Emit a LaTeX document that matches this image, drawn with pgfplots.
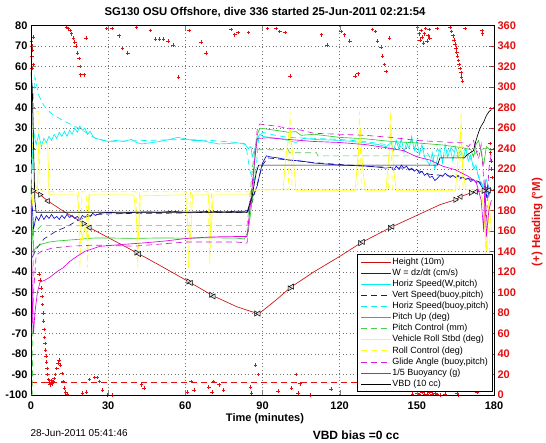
\documentclass[border=0pt]{standalone}
\usepackage{fontspec}
\setmainfont{Liberation Sans}
\usepackage{pgfplots}
\pgfplotsset{compat=1.18}
\definecolor{hred}{rgb}{0.9,0.05,0.05}
\definecolor{htline}{rgb}{0.8,0.05,0.05}
\definecolor{wblue}{rgb}{0.05,0.05,0.85}
\definecolor{navy}{rgb}{0.1,0.1,0.5}
\definecolor{mcyan}{rgb}{0,0.95,0.95}
\definecolor{mgreen}{rgb}{0.15,0.8,0.15}
\definecolor{mgreen2}{rgb}{0.3,0.8,0.3}
\definecolor{myellow}{rgb}{1,1,0.1}
\definecolor{mmag}{rgb}{0.9,0,0.9}
\definecolor{mmag2}{rgb}{0.85,0.1,0.85}
\begin{document}
\begin{tikzpicture}[x=1pt,y=1pt]
\path[use as bounding box] (0,0) rectangle (546,442);
% ---------- right axis: heading ----------
\begin{axis}[at={(31pt,47pt)}, anchor=south west, scale only axis,
  width=463pt, height=369.5pt,
  xmin=0, xmax=180, ymin=0, ymax=360,
  axis y line*=right, hide x axis,
  ytick={0,20,...,360},
  /pgf/number format/assume math mode=true,
  y tick label style={hred, font=\bfseries\fontsize{11}{11}\selectfont},
  ytick style={hred}, major tick length=5pt,
  y axis line style={black, line width=0.6pt},
  ylabel={(+) Heading (°M)},
  ylabel style={hred, font=\bfseries\fontsize{11.5}{12}\selectfont, at={(rel axis cs:1.093,0.468)}, anchor=center, rotate=0},
  clip=true]
\addplot[only marks, mark=+, hred, mark size=1.8pt, mark options={line width=0.55pt}] coordinates {
(0.2,345) (0.4,340) (0.6,336) (0.3,330) (0.9,322) (0.5,318) (1.0,349)
(3.2,118) (3.6,112) (3.9,104) (4.2,96) (4.4,88) (4.6,80) (4.8,72) (5.0,64) (5.2,56) (5.4,50) (5.6,44) (5.9,38) (6.1,32) (6.3,26) (6.5,20) (6.8,15) (7.1,12) (7.5,10) (7.8,14) (8.2,11) (8.6,13) (9,16) (9.5,20) (10,26) (10.5,31) (11,34) (11.5,29) (12,21) (12.5,13) (13,7) (13.5,3) (14,1)
(13.8,358) (14.3,357) (15.2,355) (15.8,352) (16.5,348) (17.0,344) (17.6,340) (18.1,333) (18.6,328) (19.0,320) (19.2,312) (20.6,312) (21.3,348)
(20,2) (21.6,3) (22.8,15) (24.7,17) (25.9,17) (26.6,13) (27.8,5) (29.8,0) (31.7,0)
(29.4,357) (31.5,357) (34.2,350) (35.5,338) (37.6,333) (41,358) (42.9,10) (44,7) (46.4,355) (48.4,347) (50,347) (51.5,347) (53.2,345) (55.2,341) (57.3,310) (60.6,3) (61.4,355) (62.2,13) (63.3,5) (66.1,344) (68.1,333) (69.1,8) (70.3,3) (71,13) (73,10) (74.9,5) (77.7,356) (79.2,351) (80.5,353) (84.5,353) (85.3,8) (85.7,2) (87.3,29) (88.4,20) (91.9,357) (95.3,357) (96,4) (96.7,354) (98.7,353) (100.8,311) (101.2,7) (103.1,20) (103.8,2) (104.5,11) (108.4,0) (113,351) (115,341) (116.7,6) (120.5,354) (121.8,351) (123.9,345) (125.9,311) (127.2,313) (132.7,356) (134,354) (134.7,345) (136,339) (136.7,330) (137.4,322) (138,315) (139.4,348) (142.5,13) (148.3,1)
(150.3,358) (150.8,352) (151.2,346) (151.7,355) (152.1,349) (152.6,343) (153,352) (153.4,357) (153.9,345) (154.3,350) (154.8,356) (155,348)
(150,2) (151,0.5) (152,3) (153,1) (154,1) (155,3) (156,1) (157,2) (158,0.5) (159,0) (157.8,357) (161,1)
(163,358) (163.5,354) (164,350) (164.4,346) (164.8,342) (165.2,338) (165.5,334) (165.8,330) (166.2,326) (166.5,322) (166.8,318) (167.1,314) (167.4,310) (167.7,306) (165.6,2) (166,0) (168.7,357) (173.4,3) (175.4,355) (175.6,352)
(178.5,245) (178.7,236) (178.9,228) (179.1,220) (179.3,212)
};
\addplot[hred, line width=0.6pt, dash pattern=on 6pt off 4pt] coordinates {(0,12.7) (178,12.7)};
\end{axis}
% ---------- left axis ----------
\begin{axis}[at={(31pt,47pt)}, anchor=south west, scale only axis,
  width=463pt, height=369.5pt,
  xmin=0, xmax=180, ymin=-100, ymax=80,
  xtick={0,30,...,180}, ytick={-100,-90,...,80},
  ytick pos=left, xtick pos=both,
  major tick length=5pt,
  /pgf/number format/assume math mode=true,
  tick label style={font=\bfseries\fontsize{11}{11}\selectfont},
  x tick label style={yshift=-3pt},
  axis line style={line width=0.6pt},
  grid=major, grid style={black!55, line width=0.5pt, dash pattern=on 1pt off 2.5pt},
  every axis plot/.append style={line width=0.65pt},
  legend cell align=left,
  legend style={at={(0.997,0.009)}, anchor=south east, draw=black, fill=white,
    line width=0.6pt, font=\fontsize{9}{9}\selectfont, row sep=0.5pt,
    nodes={inner sep=1pt, text height=6.6pt, text depth=2pt}},
  legend image code/.code={\draw[#1] (0pt,0pt) -- (30pt,0pt);},
  clip=true]
% Height (10m)
\addplot[htline] coordinates {
(0,0) (0.8,-0.5) (3.5,-2.4) (6.6,-5.5) (12,-10) (20,-16) (22.8,-18.5) (30,-23.3) (41,-30.6) (42,-31.3) (50,-36.8) (61.6,-45) (70.5,-51.5) (80,-57) (88,-60.3) (89,-60) (95,-54) (101,-47.5) (110,-40) (120,-32.5) (128.5,-25.7) (139.8,-18.4) (150,-12.5) (159,-7.3) (165,-4.9) (167,-3.4) (171,-1.5) (174,-0.8) (177.7,-0.3)};
\addlegendentry{Height (10m)}
% W = dz/dt
\addplot[wblue] coordinates {
(0,0) (0.5,-8) (1,-19) (1.5,-16) (2,-13) (3,-15) (4,-12) (5,-14.5) (6,-12.5) (7,-14) (8,-12) (9,-14) (10,-13) (11,-14.5) (12,-12.5) (13,-14) (14,-12) (15,-13.5) (16,-12.5) (17,-14) (18,-13) (19,-14.5) (20,-12.5) (21,-13.5) (22,-12) (23,-13) (24,-11.5) (25,-12.5) (27,-11.5) (30,-11) (35,-11.5) (40,-11) (45,-10.8) (50,-11) (55,-10.5) (60,-11) (65,-10.8) (70,-10.5) (75,-10.8) (80,-10.5) (83,-10.5) (84.5,-10) (86,-4) (88,2) (89,8) (90,13) (91.5,16.5) (93,16) (96,15.5) (100,14.5) (105,14) (110,13) (115,12.5) (120,12) (125,11.8) (130,11.5) (135,11) (138,10.5) (140,11) (141,9.5) (142,11.5) (143,10) (144,12) (145,10.5) (146,11.5) (147,9.5) (148,10.5) (149,9) (150,10) (151,8) (152,9) (153,7) (154,8) (155,6) (156,6.5) (157,4.5) (158,5.5) (159,7) (160,6.5) (161,8) (162,7) (163,6) (164,7) (165,6) (166,7) (167,5.5) (168,6) (169,5) (170,5.5) (171,4) (172,5) (173,3.5) (174,4) (175,2) (176,0) (176.5,3) (177,-4) (177.5,2) (178,-3) (178.5,1) (179,0)};
\addlegendentry{W = dz/dt (cm/s)}
% Horiz Speed (W,pitch)
\addplot[mcyan] coordinates {
(0,0) (0.5,15) (1,29) (1.5,25) (2,22) (3,27) (4,21) (5,25) (6,23) (7,26) (8,24) (9,27) (10,25) (11,28) (12,26) (13,28.5) (14,26) (15,29) (16,27) (17,30) (18,28) (19,31) (20,29) (21,30) (22,27) (23,28.5) (24,26) (25,25) (27,24.5) (30,23.5) (33,24) (36,23.5) (39,24.5) (41,23) (43,22.3) (46,22.8) (50,23.5) (54,24.5) (57,25.5) (60,24.8) (63,24) (66,24) (70,23) (73,22.3) (77,22.5) (80,22.8) (83,22.5) (84.5,20) (85.5,21) (86,16) (87,20) (88,25) (89,27) (90,26) (93,25.5) (96,25) (100,24) (103,23) (106,25) (110,24.5) (115,24.3) (120,24) (125,23.5) (130,22.8) (135,22) (138,21) (140,23) (141,19) (142,24) (143,20) (144,25) (145,18) (146,23) (147,20) (148,26) (149,19) (150,24) (151,17) (152,22) (153,16) (154,14) (155,12) (156,18) (157,10) (158,15) (159,20) (160,13) (161,22) (162,16) (163,20) (164,14) (165,21) (166,17) (167,19) (168,15) (169,20) (170,14) (171,17) (172,10) (173,12) (174,6) (175,3) (176,0) (177,5) (178,1) (179,0)};
\addlegendentry{Horiz Speed(W,pitch)}
% Vert Speed (buoy,pitch)
\addplot[navy, dash pattern=on 6pt off 4pt] coordinates {
(0.5,-33) (2,-29) (5,-24) (10,-20) (14,-18) (18,-15) (22,-13) (26,-12) (30,-11.8) (40,-11.5) (50,-11.5) (60,-11.3) (70,-11) (80,-11) (84,-11) (86,-6) (88,3) (90,12) (92,15.5) (96,15) (100,14.5) (110,13.2) (120,12.3) (130,11.5) (140,10.8) (145,10.5) (150,9.5) (155,7.5) (160,7) (165,6.5) (170,5.5) (174,4) (176,2) (178,0)};
\addlegendentry{Vert Speed(buoy,pitch)}
% Horiz Speed (buoy,pitch)
\addplot[mcyan, dash pattern=on 6pt off 4pt] coordinates {
(0.5,10) (1,45) (1.5,55) (2,52) (3,46) (5,41) (8,37) (12,34) (16,31.5) (20,29) (23,26.5) (26,24.5) (30,23.5) (40,23.8) (50,24.2) (60,24.5) (70,24) (80,23) (83.5,22) (85,10) (86.5,2) (87.5,10) (88.5,25) (90,28) (95,26.5) (100,25.5) (110,25) (120,24.5) (130,23.5) (138,22) (142,24) (145,19) (148,24) (150,18) (153,20) (156,14) (158,20) (160,15) (163,21) (166,16) (169,20) (172,12) (175,4) (177,-2) (179,0)};
\addlegendentry{Horiz Speed(buoy,pitch)}
% Pitch Up
\addplot[mgreen] coordinates {
(0,0) (0.5,-20) (1,-30) (2,-28) (4,-26.5) (7,-25.5) (10,-25) (15,-24.5) (20,-24) (25,-23.5) (30,-23.5) (40,-23.7) (50,-23.5) (60,-23.6) (70,-23.4) (80,-23.6) (83,-24) (84.5,-20) (86,-5) (87,15) (88,27) (89,30) (92,29.5) (96,28.8) (100,28) (103,28.3) (105,26.5) (110,27) (120,25.5) (130,24.8) (140,23.5) (150,22.8) (160,21.8) (168,20.4) (171,19.5) (172,16) (173,22) (174,24) (175,18) (176,12) (177,21) (178,20) (179,19)};
\addlegendentry{Pitch Up (deg)}
% Pitch Control
\addplot[mgreen2, dash pattern=on 6pt off 4pt] coordinates {
(0,-100) (0.5,-100) (1,-20) (2,-20) (4,-17.5) (84,-17.5) (85,-5) (86,10) (87,19.5) (100,19.5) (100.5,18) (111,18) (111.5,16.5) (170,16.5) (172,17) (174,19) (176,20) (178,20)};
\addlegendentry{Pitch Control (mm)}
% Vehicle Roll Stbd
\addplot[myellow] coordinates {
(0,0) (0.5,-8) (1,5) (2.5,-1) (3,23) (4,22) (5.5,23) (6.5,22) (7,-2) (8,-2.5) (18,-2.5) (19,-15) (20,-24) (21,-18) (22,-24) (22.5,-2.5) (40,-2.5) (41,-15) (41.8,-24) (42.5,-3) (60,-2.5) (61,-18) (62,-24) (62.8,-2.5) (69,-2.5) (70,-22) (70.8,-2.5) (84,-2.5) (86,-1) (88,0) (98,0) (99,15) (100.5,30) (102,15) (103,-0.5) (126,-0.5) (127,15) (128,30) (129,10) (130,-0.5) (138,-0.5) (139,15) (140,30) (141,10) (142,-0.5) (165,-0.5) (166,15) (167,28) (168,10) (169,0) (175,0) (176,-10) (177,-30) (178,-5) (179,-20)};
\addlegendentry{Vehicle Roll Stbd (deg)}
% Roll Control
\addplot[myellow, dash pattern=on 6pt off 4pt] coordinates {
(0,0) (1,38) (3,38) (3.5,0) (5,-1) (18.5,-1) (19,-38) (19.8,-1) (21.5,-1) (22,-38) (22.8,-1) (40.8,-1) (41.5,-38) (42.2,-1) (60.5,-1) (61.2,-38) (62,-1) (68.8,-1) (69.5,-36) (70.2,-1) (84,-1) (86,0) (100,0) (100.7,38) (101.5,0) (127,0) (127.7,38) (128.5,0) (139,0) (139.7,38) (140.5,0) (166.5,0) (167.2,38) (168,0) (176,0) (177,-40) (178,-10) (178.5,-45)};
\addlegendentry{Roll Control (deg)}
% Glide Angle
\addplot[mmag2, dash pattern=on 6pt off 4pt] coordinates {
(0.3,-70) (1,-50) (2,-32) (4,-30) (8,-28.5) (15,-27.5) (25,-27) (40,-27.5) (50,-26.5) (60,-25.5) (70,-25.5) (80,-25.5) (84,-26) (85,-10) (86.5,10) (88,30) (89,32) (95,31) (100,30) (105,29) (110,27.5) (120,27) (130,26.5) (140,25.5) (150,24) (160,23.3) (168,22.8) (170,21) (172,24) (174,15) (175,22) (176,5) (177,-15) (178,10) (179,18)};
\addlegendentry{Glide Angle (buoy,pitch)}
% 1/5 Buoyancy
\addplot[mmag] coordinates {
(0,-5) (0.3,-32) (0.6,-59) (1,-70) (1.5,-60) (2.5,-50) (3.5,-45) (5.5,-44) (7.5,-42.5) (10,-40) (12.5,-38) (15,-35) (17.8,-32.5) (21,-30) (26.7,-27.6) (35,-26.7) (43,-26) (52,-25) (60,-23.8) (70,-23) (80,-22.8) (84,-22.8) (85.5,-5) (87,15) (88,25) (92,25.3) (100,24.5) (110,23.5) (120,23) (130,22) (138,20.5) (145,19) (150,16) (155,14.5) (160,11.5) (165,9.7) (170,6.5) (173,4) (175,-5) (176,-20) (176.5,5) (177,-23) (178,-10) (179,-5)};
\addlegendentry{1/5 Buoyancy (g)}
% VBD
\addplot[black] coordinates {
(0,57) (0.5,50) (1,20) (1.5,-5) (2,-11) (84,-11) (86,-3) (87.5,8) (88.5,12) (158,12) (159,15.5) (168.5,15.5) (169.5,17) (172,19) (173,24) (174,28) (175,31) (176,33) (177,36) (178,38) (179,39)};
\addlegendentry{VBD (10 cc)}
% Height markers
\addplot[forget plot, only marks, mark=triangle*, mark size=3pt,
  mark options={rotate=-90, draw=black, fill=gray!25, line width=0.5pt}] coordinates {
(0.8,-0.5) (3.5,-2.4) (20.5,-16.5) (41,-30.6) (61.2,-44.7) (70,-51.2) (87.5,-60.3) (100.5,-48) (128,-26) (139.5,-18.6) (165,-4.9) (171,-1.5) (176,-0.5)};
\addplot[forget plot, only marks, mark=triangle*, mark size=3pt,
  mark options={rotate=90, draw=black, fill=gray!25, line width=0.5pt}] coordinates {
(6.6,-5.5) (22.8,-18.5) (42,-31.3) (62.2,-45.4) (71,-52) (88.5,-60.3) (101.5,-47.2) (129,-25.4) (140.5,-18) (167,-3.4) (173,-1) (178,-0.3)};
\end{axis}
% ---------- texts ----------
\node[font=\bfseries\fontsize{11.3}{12}\selectfont] at (265,430) {SG130 OSU Offshore, dive 336 started 25-Jun-2011 02:21:54};
\node[font=\bfseries\fontsize{11}{11}\selectfont] at (265,23.5) {Time (minutes)};
\node[anchor=west, font=\fontsize{10}{10}\selectfont] at (27,9) {28-Jun-2011 05:41:46};
\node[font=\bfseries\fontsize{12}{12}\selectfont] at (356,7) {VBD bias =0 cc};
\end{tikzpicture}
\end{document}
